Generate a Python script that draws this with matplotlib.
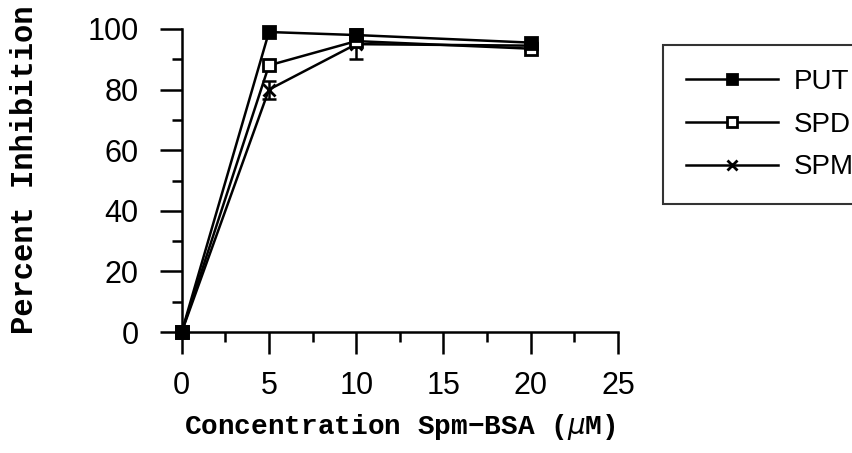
import matplotlib
matplotlib.use("Agg")
import matplotlib.pyplot as plt

conc = [0, 5, 10, 20]
put = [0, 99, 98, 95.5]
spd = [0, 88, 96, 93.5]
spm = [0, 80, 95, 94.5]
spm_err = [0, 3, 5, 0]

xticks = [0, 5, 10, 15, 20, 25]
yticks = [0, 20, 40, 60, 80, 100]

fig = plt.figure(figsize=(8.53, 4.53), dpi=100)
ax = fig.add_axes([0.213, 0.267, 0.5115, 0.669])

ax.errorbar(conc, spm, yerr=spm_err, fmt="none", ecolor="black", capsize=5,
            elinewidth=1.8, capthick=1.8, clip_on=False, zorder=2)
l_spm, = ax.plot(conc, spm, color="black", lw=1.8, marker="x", ms=9, mew=2,
                 clip_on=False, label="SPM", zorder=3)
l_spd, = ax.plot(conc, spd, color="black", lw=1.8, marker="s", ms=9, mfc="white", mew=2,
                 clip_on=False, label="SPD", zorder=4)
l_put, = ax.plot(conc, put, color="black", lw=1.8, marker="s", ms=9, mfc="black", mew=2,
                 clip_on=False, label="PUT", zorder=5)

ax.set_xlim(0, 25)
ax.set_ylim(0, 100)
ax.set_xticks(xticks)
ax.set_yticks(yticks)
ax.set_xticks([2.5, 7.5, 12.5, 17.5, 22.5], minor=True)
ax.set_yticks([10, 30, 50, 70, 90], minor=True)
ax.spines["top"].set_visible(False)
ax.spines["right"].set_visible(False)
ax.spines["left"].set_linewidth(1.8)
ax.spines["bottom"].set_linewidth(1.8)
ax.tick_params(which="major", direction="out", length=16, width=1.8)
ax.tick_params(which="minor", direction="out", length=7.5, width=1.8)
ax.tick_params(axis="x", which="major", pad=12)
ax.tick_params(axis="y", which="major", pad=15)
for lab in ax.get_xticklabels() + ax.get_yticklabels():
    lab.set_family("Liberation Sans")
    lab.set_fontsize(22)

ax.set_xlabel("Concentration Spm\u2212BSA ($\\mu$M)", family="Liberation Mono",
              weight="bold", fontsize=20, labelpad=8)
ax.set_ylabel("Percent Inhibition", family="Liberation Mono", weight="bold",
              fontsize=22)
ax.yaxis.set_label_coords(-0.325, 0.535)

leg = fig.legend([l_put, l_spd, l_spm], ["PUT", "SPD", "SPM"], loc="upper left",
                 bbox_to_anchor=(0.777, 0.90), borderaxespad=0, fancybox=False,
                 edgecolor="black", prop={"family": "Liberation Sans", "size": 20},
                 handlelength=3.3, handletextpad=0.55, labelspacing=0.6,
                 borderpad=0.85, markerscale=0.85)
leg.get_frame().set_linewidth(1.5)

fig.savefig("out.png", dpi=100)
